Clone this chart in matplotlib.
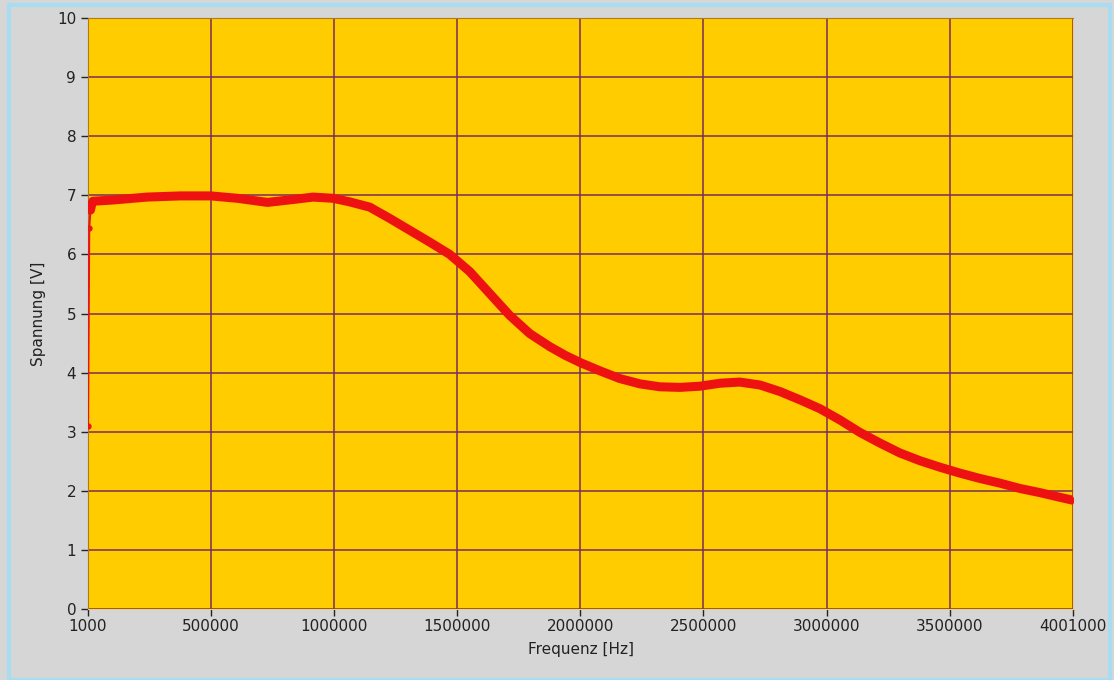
import matplotlib.pyplot as plt
from matplotlib.patches import Rectangle

freq = [1000, 6000, 11000, 16000, 21000, 100000, 240000, 375000, 500000,
        607000, 730000, 835000, 915000, 995000, 1063000, 1145000, 1226000,
        1307000, 1388000, 1470000, 1551000, 1632000, 1713000, 1795000,
        1876000, 1940000, 2000000, 2080000, 2160000, 2242000, 2323000,
        2405000, 2486000, 2567000, 2648000, 2730000, 2811000, 2892000,
        2973000, 3054000, 3135000, 3216000, 3298000, 3379000, 3460000,
        3541000, 3622000, 3704000, 3785000, 3866000, 3948000, 4001000]
volt = [3.1, 6.45, 6.75, 6.85, 6.9, 6.92, 6.97, 6.99, 6.99,
        6.95, 6.88, 6.93, 6.97, 6.95, 6.89, 6.8, 6.61,
        6.41, 6.21, 6.0, 5.71, 5.34, 4.97, 4.66,
        4.44, 4.29, 4.17, 4.03, 3.9, 3.81, 3.76,
        3.75, 3.77, 3.82, 3.84, 3.79, 3.68, 3.54,
        3.39, 3.2, 2.99, 2.81, 2.64, 2.51, 2.4,
        2.3, 2.21, 2.13, 2.04, 1.97, 1.89, 1.84]

xticks = [1000, 500000, 1000000, 1500000, 2000000, 2500000, 3000000, 3500000, 4001000]
yticks = list(range(0, 11))

fig = plt.figure(figsize=(11.14, 6.8), dpi=100, facecolor='#d6d6d6')
ax = fig.add_axes([0.079, 0.1044, 0.8842, 0.8691])
ax.set_facecolor('#ffcc00')

# thin line + small markers (visible at the start), thick band for the rest
ax.plot(freq, volt, color='#e8141c', lw=1.5, marker='o', ms=3.5, zorder=3)
ax.plot(freq[2:], volt[2:], color='#ee1111', lw=6.5, solid_capstyle='round',
        solid_joinstyle='round', zorder=4)

ax.set_xlim(1000, 4001000)
ax.set_ylim(0, 10)
ax.set_xticks(xticks)
ax.set_xticklabels([str(t) for t in xticks])
ax.set_yticks(yticks)
ax.grid(True, color='#7b2d55', lw=1.1)
ax.set_axisbelow(True)

ax.tick_params(axis='both', labelsize=11, colors='#222222', length=5, width=1)
ax.tick_params(axis='x', pad=2)
for s in ['left', 'top']:
    ax.spines[s].set_color('#b07a1a')
for s in ['right', 'bottom']:
    ax.spines[s].set_color('#f4d060')

ax.set_xlabel('Frequenz [Hz]', fontsize=11, color='#222222', labelpad=6)
ax.set_ylabel('Spannung [V]', fontsize=11, color='#222222', labelpad=8)

# light blue window frame
fig.patches.append(Rectangle((0.008, 0.0), 0.988, 0.993, transform=fig.transFigure,
                             fill=False, edgecolor='#a8dcf0', lw=3))

fig.savefig('out.png', dpi=100, facecolor=fig.get_facecolor())
